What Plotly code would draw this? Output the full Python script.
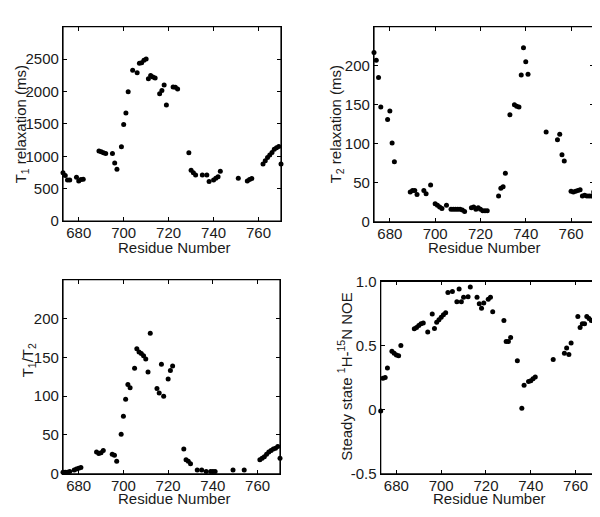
import plotly.graph_objects as go

W, H = 600, 517

# ---------------- data ----------------
t1_res = [673, 674, 675, 676, 679, 680, 681, 682, 689, 690, 691, 692, 695, 696, 697, 699,
          700, 701, 702, 704, 706, 707, 708, 709, 710, 711, 712, 713, 714, 716, 717, 718, 719,
          722, 723, 724, 729, 730, 731, 732, 735, 737, 738, 740, 741, 742, 743, 751, 755,
          756, 757, 762, 763, 764, 765, 766, 767, 768, 769, 770]
t1_val = [745, 705, 635, 635, 675, 620, 640, 645, 1082, 1071, 1056, 1042, 1042, 897, 799, 1146,
          1492, 1667, 1994, 2326, 2287, 2436, 2445, 2480, 2500, 2198, 2247, 2222, 2207, 1964, 2013, 2098, 1790,
          2068, 2064, 2039, 1056, 784, 744, 710, 710, 710, 610, 635, 659, 684, 769, 659, 620,
          640, 655, 880, 930, 980, 1020, 1060, 1110, 1130, 1150, 880]

t2_res = [673, 674, 675, 676, 679, 680, 681, 682, 689, 690, 691, 692, 695, 696, 698,
          700, 701, 702, 703, 705, 707, 708, 709, 710, 711, 712, 713,
          716, 717, 718, 719, 720, 721, 722, 723, 728, 729, 730, 731,
          733, 735, 736, 737, 738, 739, 740, 741, 749, 754, 755, 756, 757,
          760, 761, 762, 763, 764, 765, 766, 767, 768, 769, 770]
t2_val = [217, 207, 185, 147, 131, 142, 101, 77, 38, 40, 40, 35, 40, 36, 47,
          23, 21, 19, 17, 21, 16, 16, 16, 16, 16, 15, 13,
          18, 19, 16, 18, 16, 14, 14, 14, 33, 43, 45, 62,
          137, 150, 148, 147, 188, 223, 205, 189, 115, 105, 112, 86, 78,
          39, 38, 39, 40, 41, 33, 34, 33, 33, 33, 38]

ratio_res = [673, 674, 675, 676, 678, 679, 680, 681, 688, 689, 690, 691, 695, 696, 697,
             699, 700, 701, 702, 703, 705, 706, 707, 708, 709, 710, 711, 712,
             715, 716, 717, 718, 720, 721, 722, 727, 728, 729, 730,
             733, 735, 737, 739, 740, 741, 749, 754,
             761, 762, 763, 764, 765, 766, 767, 768, 769, 770]
ratio_val = [2, 2, 2, 3, 5, 6, 7, 8, 28, 26, 27, 30, 25, 24, 16,
             51, 74, 96, 115, 111, 136, 161, 157, 155, 152, 148, 131, 181,
             110, 104, 141, 100, 122, 133, 139, 32, 18, 16, 13,
             5, 5, 3, 3, 3, 3, 5, 5,
             18, 20, 22, 25, 28, 30, 32, 33, 35, 20]

noe_res = [673, 674, 675, 676, 678, 679, 680, 681, 682, 688, 689, 690, 691, 692,
           694, 696, 697, 698, 699, 700, 701, 702, 703, 705, 707, 708, 709, 710, 712, 713,
           716, 717, 718, 719, 721, 722, 723, 728, 729, 730, 731, 734, 736, 737,
           739, 740, 741, 742, 750, 755, 756, 757, 758,
           761, 762, 763, 764, 765, 766, 767, 768, 769, 770]
noe_val = [-0.01, 0.245, 0.25, 0.325, 0.455, 0.44, 0.425, 0.42, 0.50, 0.63, 0.64, 0.655, 0.67, 0.675,
           0.605, 0.745, 0.633, 0.68, 0.70, 0.72, 0.74, 0.755, 0.913, 0.92, 0.84, 0.94, 0.84, 0.875, 0.88, 0.955,
           0.875, 0.825, 0.79, 0.83, 0.86, 0.875, 0.763, 0.695, 0.53, 0.53, 0.5625, 0.38, 0.01, 0.19,
           0.22, 0.225, 0.24, 0.255, 0.39, 0.44, 0.48, 0.43, 0.52,
           0.725, 0.64, 0.67, 0.67, 0.725, 0.71, 0.695, 0.69, 0.67, 0.67]

x_ticks = [680, 700, 720, 740, 760]

# ---------------- layout helpers ----------------
def px_x(p):
    return p / W

def px_y(p):
    return 1 - p / H

FONT = dict(family="Liberation Sans, Arial, sans-serif", size=15, color="#1a1a1a")
TICKFONT = dict(family="Liberation Sans, Arial, sans-serif", size=15, color="#1a1a1a")

panels = [
    # (res, val, axis index, frame px (left, right, top, bottom), y range, y tick values, y tick text)
    (t1_res, t1_val, 1, (55, 273, 10, 211), [0, 3000], [0, 500, 1000, 1500, 2000, 2500], None),
    (t2_res, t2_val, 2, (366, 585.7, 10, 211.7), [0, 250], [0, 50, 100, 150, 200], None),
    (ratio_res, ratio_val, 3, (55, 272, 271.7, 472.3), [0, 250], [0, 50, 100, 150, 200], None),
    (noe_res, noe_val, 4, (372.7, 590, 273.3, 472.3), [-0.5, 1.0], [-0.5, 0, 0.5, 1.0], ["-0.5", "0", "0.5", "1.0"]),
]

fig = go.Figure()
layout = dict(
    width=W, height=H,
    margin=dict(l=0, r=0, t=0, b=0),
    paper_bgcolor="white", plot_bgcolor="white",
    showlegend=False,
    font=FONT,
)

shapes = []
for res, val, i, (l, r, t, b), yr, ytv, ytt in panels:
    sfx = "" if i == 1 else str(i)
    fig.add_trace(go.Scatter(
        x=res, y=val, mode="markers",
        marker=dict(color="black", size=5),
        cliponaxis=False,
        xaxis="x" + sfx, yaxis="y" + sfx,
    ))
    common = dict(showline=True, linecolor="black", linewidth=1.2, mirror="ticks",
                  ticks="inside", ticklen=4, tickwidth=1, tickcolor="black",
                  showgrid=False, zeroline=False, tickfont=TICKFONT)
    layout["xaxis" + sfx] = dict(domain=[px_x(l), px_x(r)], range=[673, 770],
                                 tickvals=x_ticks, anchor="y" + sfx,
                                 ticklabelstandoff=-2, **common)
    yax = dict(domain=[px_y(b), px_y(t)], range=yr, tickvals=ytv, anchor="x" + sfx, **common)
    if ytt:
        yax["ticktext"] = ytt
    layout["yaxis" + sfx] = yax
    shapes.append(dict(type="rect", xref="x" + sfx + " domain", yref="y" + sfx + " domain",
                       x0=0, x1=1, y0=0, y1=1, line=dict(color="black", width=1.2),
                       fillcolor="rgba(0,0,0,0)", layer="above"))

layout["shapes"] = shapes
fig.update_layout(**layout)

annots = [
    # x-axis titles
    ("Residue Number", 166, 238, 0),
    ("Residue Number", 476, 238, 0),
    ("Residue Number", 166, 498, 0),
    ("Residue Number", 481, 498, 0),
    # y-axis titles
    ("T<sub>1</sub> relaxation (ms)", 13, 111, -90),
    ("T<sub>2</sub> relaxation (ms)", 328, 111, -90),
    ("T<sub>1</sub>/T<sub>2</sub>", 20, 355, -90),
    ("Steady state <sup>1</sup>H-<sup>15</sup>N NOE", 337, 372, -90),
]
for text, x, y, ang in annots:
    fig.add_annotation(text=text, x=px_x(x), y=px_y(y), xref="paper", yref="paper",
                       xanchor="center", yanchor="middle", showarrow=False,
                       textangle=ang, font=FONT)

fig.write_html("out.html")
